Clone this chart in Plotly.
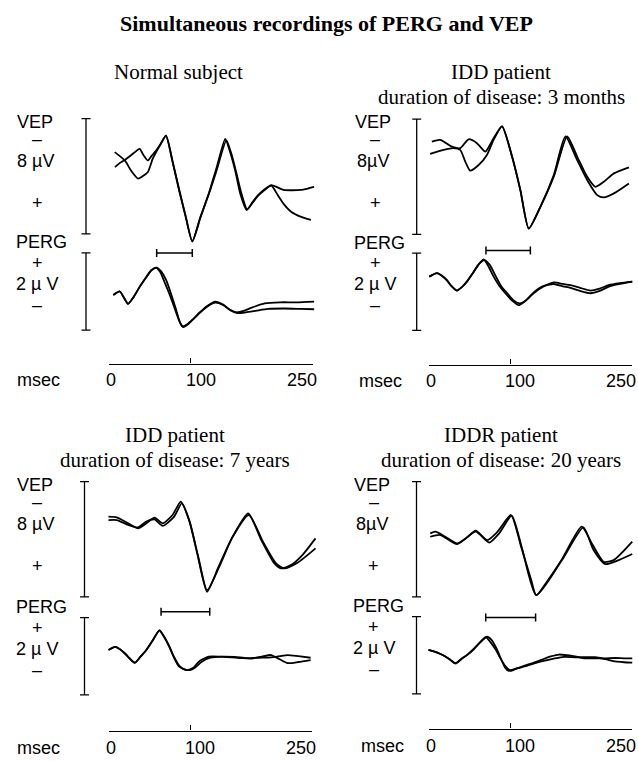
import plotly.graph_objects as go

# ---------------- data ----------------
main_title = "Simultaneous recordings of PERG and VEP"
panel_titles = ["Normal subject", "IDD patient", "IDD patient", "IDDR patient"]
panel_subtitles = ["", "duration of disease: 3 months",
                   "duration of disease: 7 years", "duration of disease: 20 years"]
vep_amp_labels = ["8 µV", "8µV", "8 µV", "8µV"]
perg_amp_labels = ["2 µ V", "2 µ V", "2 µ V", "2 µ V"]
time_ticks = [0, 100, 250]
time_tick_labels = ["0", "100", "250"]
vep_scale_uv = 8
perg_scale_uv = 2
latency_start = [58.5, 70.5, 64.5, 70.2]
latency_end = [102.2, 125.0, 124.2, 131.4]

# Panel 1 - normal subject
p1_vep_a_t = [7, 19.4, 27, 35.6, 41, 47.7, 53.7, 62, 69.9, 78, 86, 94, 102.2, 112, 122.4, 132, 142.7, 148, 154.8, 161, 168.9, 176, 183, 191, 199.2, 206, 214, 223.4, 235, 244, 251.7]
p1_vep_a_uv = [-1.68, -1.1, -0.4, 0.16, 0.0, -0.3, -1.22, -2.1, -2.83, -1.0, 0.97, 2.8, 4.53, 2.9, 1.2, -0.6, -2.6, -1.8, -0.41, 1.2, 2.34, 1.8, 1.31, 0.9, 0.62, 0.75, 0.95, 0.97, 0.95, 0.85, 0.74]
p1_vep_b_t = [7.3, 14, 21.4, 30, 37.6, 42, 47.7, 52, 57.8, 64, 69.9, 78, 86, 94, 102.2, 112, 122.4, 132, 144, 150, 156, 162, 169.5, 176, 183, 191, 199.2, 207, 214, 223.4, 235, 247.7]
p1_vep_b_uv = [-0.64, -0.95, -1.22, -1.6, -1.91, -1.5, -1.1, -1.4, -1.79, -2.3, -2.83, -1.05, 0.9, 2.75, 4.5, 2.85, 1.25, -0.4, -2.5, -1.6, -0.3, 1.1, 2.3, 1.85, 1.35, 0.95, 0.65, 1.3, 1.9, 2.46, 2.8, 3.03]
p1_perg_a_t = [5.3, 13.3, 18, 23.4, 30, 37.6, 45, 52, 57.8, 63, 68, 73.9, 80, 86, 90, 96, 103, 110.3, 120, 130.5, 140, 148, 156.8, 165, 175, 191, 210, 230, 251.7]
p1_perg_a_uv = [-0.09, 0.0, -0.15, -0.32, -0.15, 0.12, 0.35, 0.55, 0.62, 0.5, 0.25, -0.05, -0.4, -0.75, -0.9, -0.85, -0.72, -0.57, -0.4, -0.29, -0.35, -0.47, -0.54, -0.5, -0.42, -0.31, -0.28, -0.28, -0.26]
p1_perg_b_t = [5.3, 13.3, 18, 23.4, 30, 37.6, 45, 52, 58.5, 64, 70, 76, 82, 87, 91, 97, 104, 111, 120, 130.5, 140, 150, 158, 168, 180, 195, 215, 235, 251.7]
p1_perg_b_uv = [-0.09, 0.0, -0.15, -0.32, -0.15, 0.12, 0.35, 0.55, 0.62, 0.52, 0.3, -0.05, -0.45, -0.8, -0.92, -0.85, -0.7, -0.55, -0.38, -0.26, -0.34, -0.5, -0.56, -0.54, -0.5, -0.45, -0.44, -0.45, -0.46]

# Panel 2 - IDD, 3 months
p2_vep_a_t = [4.1, 14.3, 28.7, 38.9, 49.2, 59.4, 69.7, 79.9, 90.2, 102.5, 112.7, 123, 137.3, 153.7, 170.1, 182.4, 194.7, 204.9, 215.2, 227.5, 245.9]
p2_vep_a_uv = [-2.44, -2.56, -2.09, -1.98, -2.6, -2.33, -1.74, -2.67, -3.49, -1.4, 0.93, 3.6, 2.09, 0.0, -2.79, -1.4, 0.0, 0.7, 0.35, -0.23, -0.65]
p2_vep_b_t = [2, 18.4, 30.7, 38.9, 45.1, 51.2, 61.5, 71.7, 79.9, 90.2, 102.5, 112.7, 123, 137.3, 153.7, 168, 182.4, 194.7, 207, 215.2, 227.5, 245.9]
p2_vep_b_uv = [-1.58, -1.86, -1.98, -1.86, -1.05, -0.42, -0.81, -1.51, -2.56, -3.49, -1.4, 0.93, 3.6, 2.09, -0.12, -2.79, -1.16, 0.23, 1.28, 1.44, 1.16, 0.47]
p2_perg_a_t = [1, 10.2, 16, 22.5, 28, 34.8, 41, 47.1, 55, 62, 67.6, 73, 79.9, 87, 94.3, 102, 110.7, 118, 129.1, 140, 153.7, 165, 174.2, 186, 198.8, 210, 221.3, 235, 250]
p2_perg_a_uv = [0.39, 0.48, 0.42, 0.3, 0.15, 0.03, 0.12, 0.26, 0.5, 0.72, 0.84, 0.68, 0.39, 0.15, -0.04, -0.22, -0.35, -0.25, -0.04, 0.12, 0.24, 0.2, 0.17, 0.1, 0.03, 0.08, 0.17, 0.22, 0.26]
p2_perg_b_t = [1, 10.2, 16, 22.5, 28, 34.8, 41, 47.1, 55, 62, 68.5, 75, 82, 89, 97, 104, 112, 120, 129.1, 140, 153.7, 165, 174.2, 186, 198.8, 210, 221.3, 235, 250]
p2_perg_b_uv = [0.39, 0.48, 0.42, 0.3, 0.15, 0.03, 0.12, 0.26, 0.5, 0.72, 0.82, 0.7, 0.42, 0.15, -0.05, -0.22, -0.3, -0.22, -0.02, 0.14, 0.2, 0.14, 0.1, 0.02, -0.04, 0.02, 0.13, 0.2, 0.26]

# Panel 3 - IDD, 7 years
p3_vep_a_t = [0, 10.1, 24.2, 36.3, 46.4, 56.5, 66.5, 78.6, 88.7, 98.8, 108.9, 121, 135.1, 151.2, 171.4, 187.5, 203.6, 211.7, 223.8, 237.9, 254]
p3_vep_a_uv = [-1.57, -1.52, -1.1, -0.75, -1.1, -1.5, -1.1, -1.68, -2.61, -1.33, 0.99, 3.65, 1.91, -0.06, -1.8, 0.06, 1.68, 2.03, 1.8, 1.1, -0.06]
p3_vep_b_t = [0, 10.1, 24.2, 36.3, 46.4, 56.5, 66.5, 80.6, 89.9, 99.6, 110.1, 121, 135.9, 152, 172.2, 189.5, 205.6, 215.7, 231.9, 254]
p3_vep_b_uv = [-1.33, -1.33, -0.99, -0.82, -1.22, -1.38, -0.92, -1.57, -2.49, -1.22, 1.22, 3.54, 1.91, -0.13, -1.68, 0.17, 1.68, 2.03, 1.64, 0.64]
p3_perg_a_t = [0, 8.1, 14, 20.2, 26, 32.3, 39, 46.4, 54, 62.5, 68, 74.6, 80, 86.7, 96.8, 104, 110.9, 123, 137, 151.2, 163, 175.4, 188, 199.6, 210, 219.8, 233, 248]
p3_perg_a_uv = [0.16, 0.24, 0.18, 0.07, -0.06, -0.17, -0.02, 0.16, 0.4, 0.67, 0.5, 0.24, -0.02, -0.27, -0.36, -0.3, -0.14, -0.01, -0.01, -0.03, -0.05, -0.06, -0.01, 0.03, -0.08, -0.18, -0.15, -0.1]
p3_perg_b_t = [0, 8.1, 14, 20.2, 26, 32.3, 39, 46.4, 54, 62.5, 68, 74.6, 80, 87, 93, 100, 106, 114, 125, 140, 155, 170, 185, 199.6, 210, 219.8, 233, 248]
p3_perg_b_uv = [0.16, 0.24, 0.18, 0.07, -0.06, -0.17, -0.02, 0.16, 0.4, 0.67, 0.52, 0.26, 0.0, -0.25, -0.34, -0.36, -0.3, -0.15, -0.04, -0.01, -0.02, -0.05, -0.04, -0.03, 0.0, 0.03, 0.0, -0.04]

# Panel 4 - IDDR, 20 years
p4_vep_a_t = [2.1, 8.3, 20.7, 35.1, 47.5, 57.9, 72.3, 84.7, 101.2, 113.6, 126, 132.2, 146.7, 163.2, 188, 200.4, 214.9, 227.3, 250]
p4_vep_a_uv = [-0.41, -0.52, -0.17, 0.29, -0.13, -0.59, 0.06, -0.52, -1.68, 0.52, 2.84, 3.89, 2.84, 1.45, -0.87, 0.29, 1.57, 1.45, 0.17]
p4_vep_b_t = [2.1, 14.5, 35.1, 57.9, 74.4, 86.8, 102.1, 114.5, 132.2, 163.2, 190.1, 202.5, 216.9, 233.5, 250]
p4_vep_b_uv = [-0.17, -0.29, 0.34, -0.52, 0.24, -0.41, -1.64, 0.57, 3.89, 1.5, -0.82, 0.75, 1.73, 1.45, 1.03]
p4_perg_a_t = [0, 8.3, 14, 20.7, 27, 33.1, 40, 47.5, 55, 63, 70.2, 76, 82.6, 88, 94, 101.2, 109, 117.8, 128, 138.4, 155, 166, 179.8, 192, 204.5, 217, 229.3, 240, 250]
p4_perg_a_uv = [0.14, 0.09, 0.04, -0.03, -0.12, -0.21, -0.1, 0.01, 0.15, 0.33, 0.47, 0.34, 0.14, -0.07, -0.27, -0.4, -0.34, -0.29, -0.22, -0.16, -0.08, -0.04, -0.05, -0.05, -0.05, -0.1, -0.16, -0.18, -0.19]
p4_perg_b_t = [0, 8.3, 14, 20.7, 27, 33.1, 40, 47.5, 55, 63, 72, 78, 84, 89, 94, 98, 105, 117.8, 128, 138.4, 150, 160, 179.8, 192, 204.5, 217, 229.3, 240, 250]
p4_perg_b_uv = [0.14, 0.09, 0.04, -0.03, -0.12, -0.21, -0.1, 0.01, 0.15, 0.33, 0.48, 0.38, 0.15, -0.1, -0.32, -0.4, -0.36, -0.27, -0.2, -0.12, -0.03, 0.02, -0.03, -0.08, -0.08, -0.08, -0.07, -0.08, -0.08]

vep_traces = [
    [(p1_vep_a_t, p1_vep_a_uv), (p1_vep_b_t, p1_vep_b_uv)],
    [(p2_vep_a_t, p2_vep_a_uv), (p2_vep_b_t, p2_vep_b_uv)],
    [(p3_vep_a_t, p3_vep_a_uv), (p3_vep_b_t, p3_vep_b_uv)],
    [(p4_vep_a_t, p4_vep_a_uv), (p4_vep_b_t, p4_vep_b_uv)],
]
perg_traces = [
    [(p1_perg_a_t, p1_perg_a_uv), (p1_perg_b_t, p1_perg_b_uv)],
    [(p2_perg_a_t, p2_perg_a_uv), (p2_perg_b_t, p2_perg_b_uv)],
    [(p3_perg_a_t, p3_perg_a_uv), (p3_perg_b_t, p3_perg_b_uv)],
    [(p4_perg_a_t, p4_perg_a_uv), (p4_perg_b_t, p4_perg_b_uv)],
]

# ---------------- layout geometry (pixels) ----------------
W, H = 638, 762
PX_PER_MS = 0.815
VEP_PX_PER_UV = 14.4
PERG_PX_PER_UV = 38.6
T_LO, T_HI = -45, 255
V_RANGE = 5.5
P_RANGE = 1.7
SERIF = "Liberation Serif, Times New Roman, serif"
SANS = "Liberation Sans, Arial, sans-serif"
LAB_SIZE = 18
SUB_SIZE = 21

geom = [
    dict(t0=109.0, vep_c=176.3, perg_c=291.5, axis_y=363.5, bar_x=86, lat_y=1.0,
         lab_x=37, msec_x=38, title_x=178, title_y=72, sub_y=96),
    dict(t0=428.5, vep_c=176.7, perg_c=291.7, axis_y=364.5, bar_x=416.7, lat_y=1.07,
         lab_x=375, msec_x=380, title_x=501, title_y=72, sub_y=97),
    dict(t0=108.5, vep_c=539.2, perg_c=656.2, axis_y=730.5, bar_x=84.5, lat_y=1.15,
         lab_x=37, msec_x=38, title_x=175, title_y=435, sub_y=460),
    dict(t0=428.5, vep_c=539.2, perg_c=655.3, axis_y=728.5, bar_x=416.5, lat_y=0.98,
         lab_x=374, msec_x=382, title_x=501, title_y=435, sub_y=460),
]


def px(x):
    return x / W


def py(y):
    return 1 - y / H


fig = go.Figure()
layout = {}
annotations = []
LINE = dict(color="black", width=1.8, shape="spline", smoothing=0.6)

for i, g in enumerate(geom):
    nT, nS, nV, nP = 2 * i + 1, 2 * i + 2, 2 * i + 1, 2 * i + 2
    xT = "x" if nT == 1 else f"x{nT}"
    xS = f"x{nS}"
    yV = "y" if nV == 1 else f"y{nV}"
    yP = f"y{nP}"
    kx = lambda n: "xaxis" if n == 1 else f"xaxis{n}"
    ky = lambda n: "yaxis" if n == 1 else f"yaxis{n}"
    hidden = dict(visible=False, showgrid=False, zeroline=False, fixedrange=True)

    layout[kx(nT)] = dict(hidden, range=[T_LO, T_HI], anchor=yV,
                          domain=[px(g["t0"] + T_LO * PX_PER_MS), px(g["t0"] + T_HI * PX_PER_MS)])
    layout[kx(nS)] = dict(range=[0, 250], domain=[px(g["t0"]), px(g["t0"] + 250 * PX_PER_MS)],
                          anchor="free", position=py(g["axis_y"]), showline=True,
                          linecolor="black", linewidth=1.2, ticks="inside", ticklen=5,
                          tickwidth=1.2, tickcolor="black", tickvals=time_ticks,
                          showticklabels=False, showgrid=False, zeroline=False, fixedrange=True)
    layout[ky(nV)] = dict(hidden, range=[V_RANGE, -V_RANGE], anchor=xT,
                          domain=[py(g["vep_c"] + V_RANGE * VEP_PX_PER_UV),
                                  py(g["vep_c"] - V_RANGE * VEP_PX_PER_UV)])
    layout[ky(nP)] = dict(hidden, range=[-P_RANGE, P_RANGE], anchor=xT,
                          domain=[py(g["perg_c"] + P_RANGE * PERG_PX_PER_UV),
                                  py(g["perg_c"] - P_RANGE * PERG_PX_PER_UV)])

    for t, v in vep_traces[i]:
        fig.add_trace(go.Scatter(x=t, y=v, mode="lines", line=LINE, xaxis=xT, yaxis=yV,
                                 hoverinfo="skip"))
    for t, v in perg_traces[i]:
        fig.add_trace(go.Scatter(x=t, y=v, mode="lines", line=LINE, xaxis=xT, yaxis=yP,
                                 hoverinfo="skip"))

    bar_t = (g["bar_x"] - g["t0"]) / PX_PER_MS
    inv = dict(size=1, color="rgba(0,0,0,0)")
    # amplitude calibration bars
    fig.add_trace(go.Scatter(x=[bar_t], y=[0], mode="markers", marker=inv, xaxis=xT, yaxis=yV,
                             error_y=dict(type="data", array=[vep_scale_uv / 2], symmetric=True,
                                          width=4.5, thickness=1.3, color="black"),
                             hoverinfo="skip"))
    fig.add_trace(go.Scatter(x=[bar_t], y=[0], mode="markers", marker=inv, xaxis=xT, yaxis=yP,
                             error_y=dict(type="data", array=[perg_scale_uv / 2], symmetric=True,
                                          width=4.5, thickness=1.3, color="black"),
                             hoverinfo="skip"))
    # latency bar
    s, e = latency_start[i], latency_end[i]
    fig.add_trace(go.Scatter(x=[(s + e) / 2], y=[g["lat_y"]], mode="markers", marker=inv,
                             xaxis=xT, yaxis=yP,
                             error_x=dict(type="data", array=[(e - s) / 2], symmetric=True,
                                          width=4, thickness=1.5, color="black"),
                             hoverinfo="skip"))
    # time scale axis carrier
    fig.add_trace(go.Scatter(x=time_ticks, y=[None] * len(time_ticks), mode="markers",
                             marker=inv, xaxis=xS, yaxis=yV, hoverinfo="skip"))

    # tick labels
    lab_y = g["axis_y"] + 17
    for tv, tl, sh in zip(time_ticks, time_tick_labels, [2, 10, -11]):
        annotations.append(dict(x=tv, y=py(lab_y), xref=xS, yref="paper", text=tl,
                                showarrow=False, xshift=sh, xanchor="center", yanchor="middle",
                                font=dict(family=SANS, size=LAB_SIZE, color="black")))
    annotations.append(dict(x=px(g["msec_x"]), y=py(lab_y), xref="paper", yref="paper",
                            text="msec", showarrow=False, xanchor="center", yanchor="middle",
                            font=dict(family=SANS, size=LAB_SIZE, color="black")))

    # side labels
    vtop = g["vep_c"] - vep_scale_uv / 2 * VEP_PX_PER_UV
    ptop = g["perg_c"] - perg_scale_uv / 2 * PERG_PX_PER_UV
    side = [("VEP", vtop + 3, -2), ("–", vtop + 20, 0), (vep_amp_labels[i], vtop + 42, -2),
            ("+", vtop + 84, 0), ("PERG", ptop - 10.5, 4), ("+", ptop + 10, 0),
            (perg_amp_labels[i], ptop + 31, 0), ("–", ptop + 52, 0)]
    for txt, yy, dx in side:
        annotations.append(dict(x=px(g["lab_x"] + dx), y=py(yy), xref="paper", yref="paper",
                                text=txt, showarrow=False, xanchor="center", yanchor="middle",
                                font=dict(family=SANS, size=LAB_SIZE, color="black")))

    # panel titles
    annotations.append(dict(x=px(g["title_x"]), y=py(g["title_y"]), xref="paper", yref="paper",
                            text=panel_titles[i], showarrow=False, xanchor="center",
                            yanchor="middle", font=dict(family=SERIF, size=SUB_SIZE, color="black")))
    if panel_subtitles[i]:
        annotations.append(dict(x=px(g["title_x"]), y=py(g["sub_y"]), xref="paper",
                                yref="paper", text=panel_subtitles[i], showarrow=False,
                                xanchor="center", yanchor="middle",
                                font=dict(family=SERIF, size=SUB_SIZE, color="black")))

annotations.append(dict(x=px(327), y=py(24), xref="paper", yref="paper",
                        text="<b>" + main_title + "</b>", showarrow=False, xanchor="center",
                        yanchor="middle", font=dict(family=SERIF, size=22, color="black")))

fig.update_layout(**layout)
fig.update_layout(width=W, height=H, margin=dict(l=0, r=0, t=0, b=0), showlegend=False,
                  paper_bgcolor="white", plot_bgcolor="rgba(0,0,0,0)",
                  annotations=annotations)
fig.write_html("out.html")
